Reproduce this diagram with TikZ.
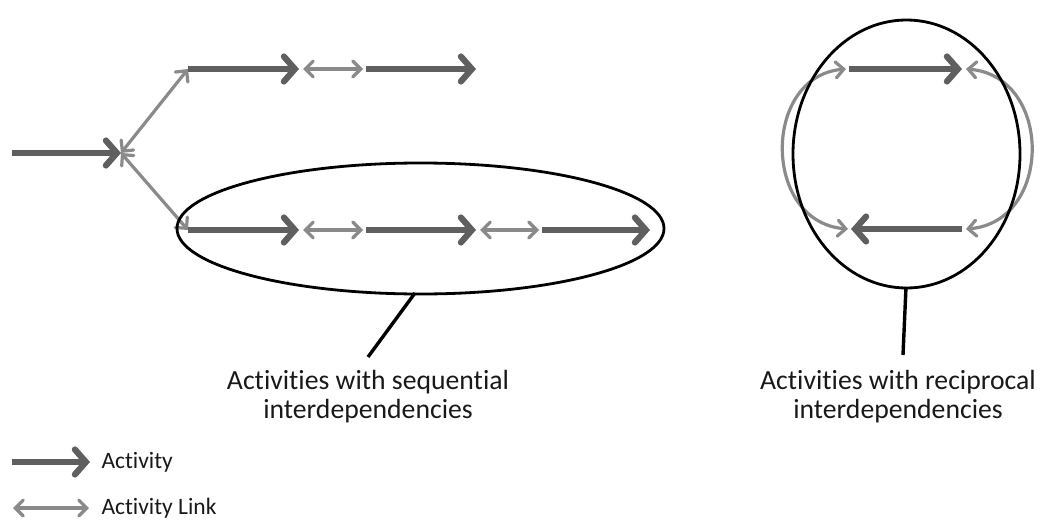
\documentclass[tikz,border=0pt]{standalone}
\usepackage{fontspec}
\setmainfont{Carlito}[Ligatures=NoCommon]
\usetikzlibrary{arrows.meta,shapes.geometric}
\definecolor{actc}{HTML}{5F5F5F}
\definecolor{linkc}{HTML}{8A8A8A}
\tikzset{
  activity/.style={draw=actc, line width=6.2pt, -{Straight Barb[length=11pt,width=25pt,line cap=round]}},
  actlink/.style={draw=linkc, line width=3.2pt, {Straight Barb[length=8pt,width=16pt,line cap=round]}-{Straight Barb[length=8pt,width=16pt,line cap=round]}},
  group/.style={draw=black, line width=2.8pt},
  pointer/.style={draw=black, line width=3.4pt},
  caption/.style={align=center, font=\fontsize{27.7}{29}\selectfont, text=black!90},
  legend/.style={anchor=west, font=\fontsize{23.5}{26}\selectfont, text=black!90}
}
\begin{document}
\begin{tikzpicture}[x=1pt,y=-1pt]
\useasboundingbox (0,0) rectangle (1041,524);
% coordinates
\coordinate (s0) at (12,153);
\coordinate (J) at (121,153);
\coordinate (u1) at (188,69);
\coordinate (u1e) at (299,69);
\coordinate (u2) at (366,69);
\coordinate (u2e) at (476,69);
\coordinate (l1) at (188,230);
\coordinate (l1e) at (299,230);
\coordinate (l2) at (366,230);
\coordinate (l2e) at (476,230);
\coordinate (l3) at (542,230);
\coordinate (l3e) at (650,230);
% left group
\draw[activity] (s0) -- (J);
\draw[actlink] (J) -- (u1);
\draw[actlink] (J) -- (l1);
\draw[activity] (u1) -- (u1e);
\draw[actlink] ([xshift=4pt]u1e) -- ([xshift=-3pt]u2);
\draw[activity] (u2) -- (u2e);
\draw[activity] (l1) -- (l1e);
\draw[actlink] ([xshift=4pt]l1e) -- ([xshift=-3pt]l2);
\draw[activity] (l2) -- (l2e);
\draw[actlink] ([xshift=4pt]l2e) -- ([xshift=-3pt]l3);
\draw[activity] (l3) -- (l3e);
\node[group, ellipse, draw, minimum width=487pt, minimum height=131pt, inner sep=0pt] (E1) at (420.5,228.5) {};
\coordinate (p1) at (368,357);
\draw[pointer] (415,293) -- (p1);
\node[caption] (c1) at (368,397) {Activities with sequential\\interdependencies};
% right group
\coordinate (r1) at (849,69);
\coordinate (r1e) at (962,69);
\coordinate (r2) at (962,229);
\coordinate (r2e) at (851,229);
\draw[activity] (r1) -- (r1e);
\draw[activity] (r2) -- (r2e);
\draw[actlink] ([xshift=-3pt]r1) .. controls (762,76) and (762,222) .. ([xshift=-3pt]r2e);
\draw[actlink] ([xshift=4pt]r1e) .. controls (1053,76) and (1053,222) .. ([xshift=4pt]r2);
\node[group, ellipse, draw, minimum width=227pt, minimum height=268pt, inner sep=0pt] (E2) at (906.5,154) {};
\coordinate (p2) at (903,355);
\draw[pointer] (906,287) -- (p2);
\node[caption] (c2) at (898,397) {Activities with reciprocal\\interdependencies};
% legend
\coordinate (a0) at (12,462);
\coordinate (a1) at (90,462);
\coordinate (b0) at (13,508);
\coordinate (b1) at (89,508);
\draw[activity] (a0) -- (a1);
\draw[actlink] (b0) -- (b1);
\node[legend] (la) at (98,462) {Activity};
\node[legend] (lb) at (98,508) {Activity Link};
\end{tikzpicture}
\end{document}
